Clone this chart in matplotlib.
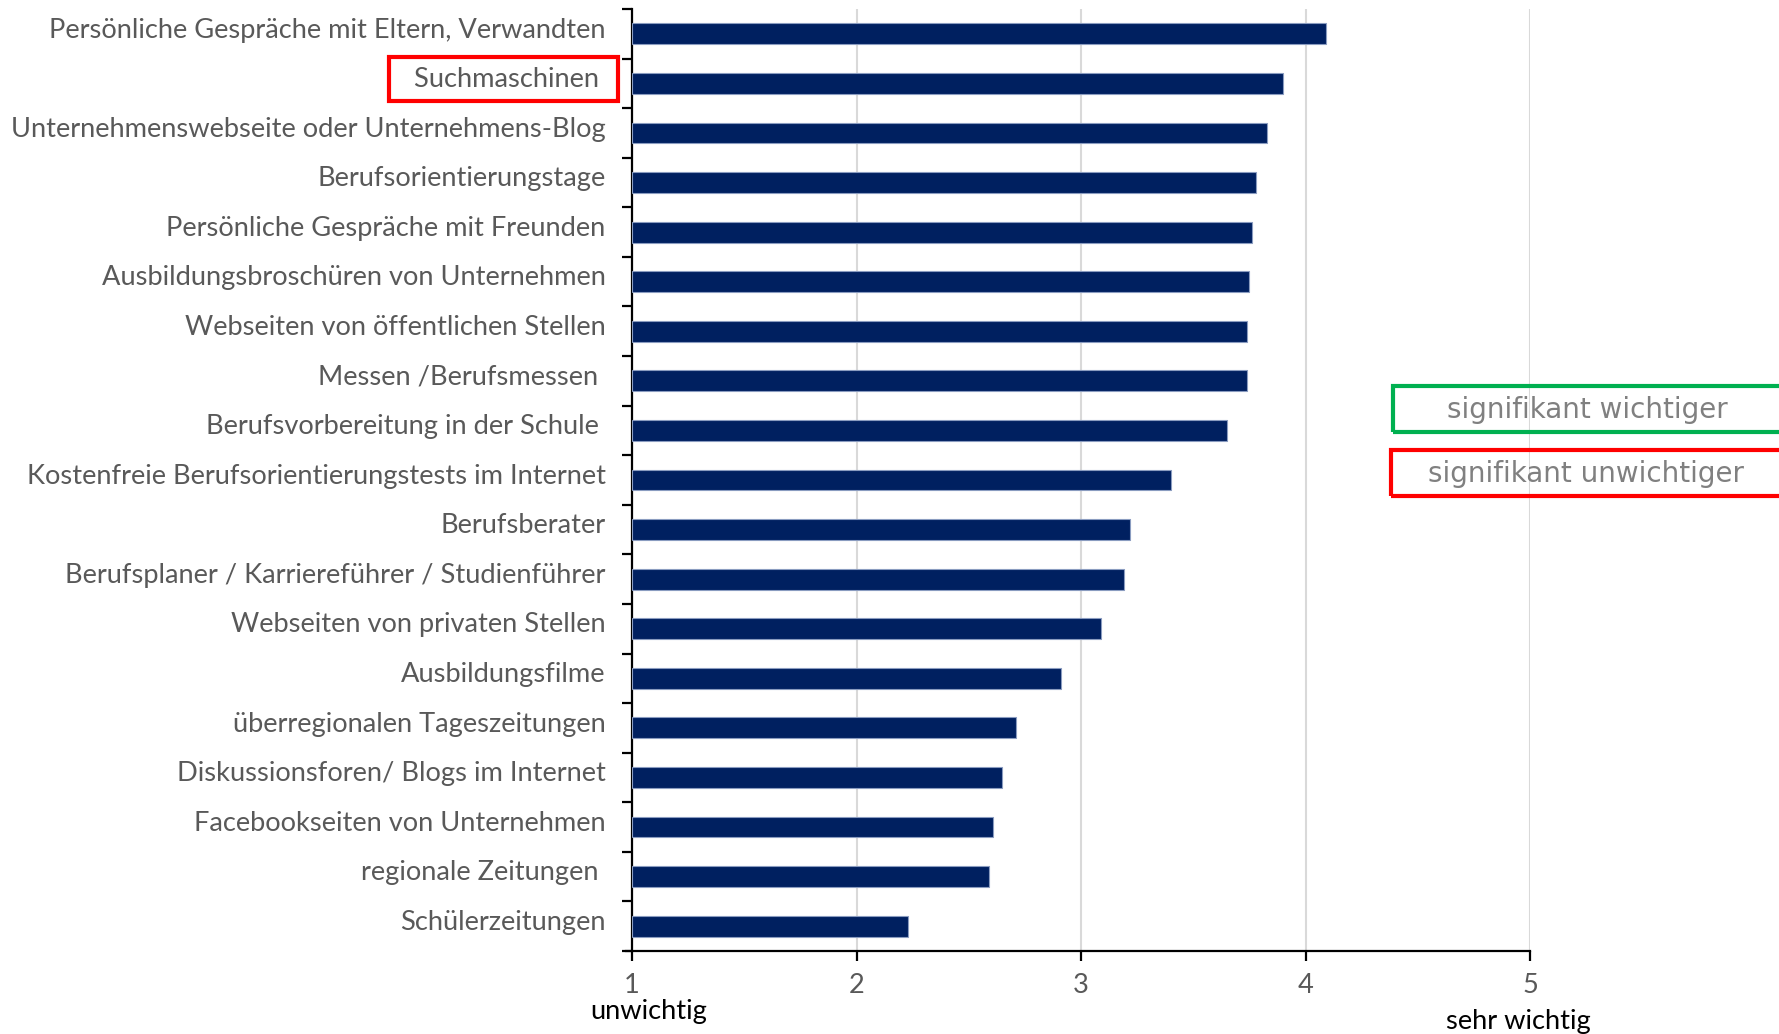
import numpy as np
import matplotlib.pyplot as plt
from matplotlib.patches import Rectangle
from matplotlib.transforms import ScaledTranslation

# Bewertung der Informationsquellen (1 = unwichtig, 5 = sehr wichtig)
kategorien = [
    "Persönliche Gespräche mit Eltern, Verwandten",
    "Suchmaschinen ",
    "Unternehmenswebseite oder Unternehmens-Blog",
    "Berufsorientierungstage",
    "Persönliche Gespräche mit Freunden",
    "Ausbildungsbroschüren von Unternehmen",
    "Webseiten von öffentlichen Stellen",
    "Messen /Berufsmessen ",
    "Berufsvorbereitung in der Schule ",
    "Kostenfreie Berufsorientierungstests im Internet",
    "Berufsberater",
    "Berufsplaner / Karriereführer / Studienführer",
    "Webseiten von privaten Stellen",
    "Ausbildungsfilme",
    "überregionalen Tageszeitungen",
    "Diskussionsforen/ Blogs im Internet",
    "Facebookseiten von Unternehmen",
    "regionale Zeitungen ",
    "Schülerzeitungen",
]
mittelwerte = [4.09, 3.90, 3.83, 3.78, 3.76, 3.75, 3.74, 3.74, 3.65, 3.40,
               3.22, 3.19, 3.09, 2.91, 2.71, 2.65, 2.61, 2.59, 2.23]
x_ticks = [1, 2, 3, 4, 5]

FONT = "Lato"
GRAU = "#595959"
FS = 19.6

W, H = 1779, 1034
fig = plt.figure(figsize=(W / 100, H / 100), dpi=100)
ax = fig.add_axes([632 / W, 83 / H, 898 / W, 942 / H])

y = np.arange(len(kategorien))
# Balken starten bei 1 (Skalenanfang)
ax.barh(y, np.array(mittelwerte) - 1, left=1, height=0.42,
        color="#002060", edgecolor="#8a9cc0", linewidth=0.8, zorder=3)

ax.set_xlim(1, 5)
ax.set_ylim(len(kategorien) - 0.5, -0.5)

ax.set_yticks(y)
ax.set_yticklabels(kategorien, fontsize=FS, color=GRAU, family=FONT)
ax.tick_params(axis="y", which="major", length=0, pad=19)
ax.set_yticks(np.arange(-0.5, len(kategorien)), minor=True)
ax.tick_params(axis="y", which="minor", length=7, width=1.6, direction="out", color="black")
# Beschriftung etwas oberhalb der Balkenmitte
versatz = ScaledTranslation(0, 4.5 / 72, fig.dpi_scale_trans)
for lab in ax.get_yticklabels():
    lab.set_transform(lab.get_transform() + versatz)

ax.set_xticks(x_ticks)
ax.set_xticklabels([str(v) for v in x_ticks], fontsize=FS, color=GRAU, family=FONT)
ax.tick_params(axis="x", length=7, width=1.6, direction="out", pad=9, color="black")

ax.grid(axis="x", color="#d9d9d9", linewidth=1.5, zorder=0)
ax.set_axisbelow(True)
for s in ["top", "right"]:
    ax.spines[s].set_visible(False)
for s in ["left", "bottom"]:
    ax.spines[s].set_linewidth(1.6)
    ax.spines[s].set_color("black")
ax.spines["bottom"].set_bounds(0.975, 5)
ax.set_clip_on(False)

# Skalenbeschriftung
fig.text(649 / W, 1 - 1012 / H, "unwichtig", fontsize=FS, family=FONT,
         color="black", ha="center", va="center")
fig.text(1518 / W, 1 - 1021 / H, "sehr wichtig", fontsize=FS, family=FONT,
         color="black", ha="center", va="center")

# Markierung "Suchmaschinen"
fig.patches.append(Rectangle((389 / W, 1 - 101 / H), 229 / W, 44 / H,
                             transform=fig.transFigure, fill=False,
                             edgecolor="#ff0000", linewidth=3))

# Legende
fig.patches.append(Rectangle((1393 / W, 1 - 432 / H), 400 / W, 46 / H,
                             transform=fig.transFigure, fill=False,
                             edgecolor="#00b050", linewidth=3))
fig.patches.append(Rectangle((1391 / W, 1 - 496 / H), 400 / W, 46 / H,
                             transform=fig.transFigure, fill=False,
                             edgecolor="#ff0000", linewidth=3))
fig.text(1587 / W, 1 - 410 / H, "signifikant wichtiger", fontsize=20,
         family="DejaVu Sans", color="#808080", ha="center", va="center")
fig.text(1586 / W, 1 - 474 / H, "signifikant unwichtiger", fontsize=20,
         family="DejaVu Sans", color="#808080", ha="center", va="center")

fig.savefig("out.png", dpi=100)
